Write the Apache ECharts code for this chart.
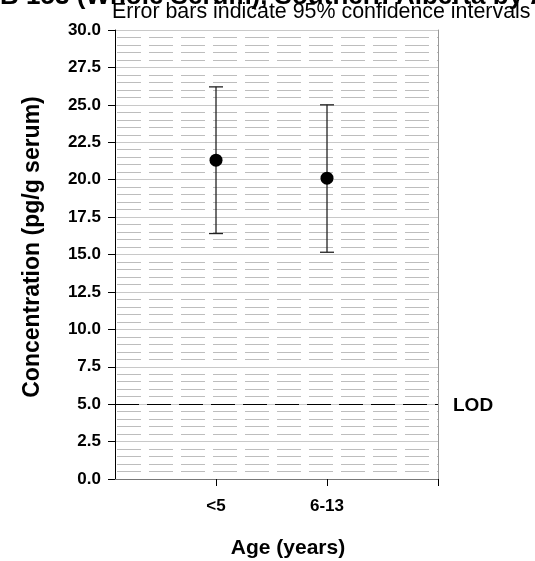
<!DOCTYPE html>
<html>
<head>
<meta charset="utf-8">
<script src="https://cdn.jsdelivr.net/npm/echarts@6/dist/echarts.min.js"></script>
<style>
  html, body { margin: 0; padding: 0; background: #fff; }
  #chart { width: 535px; height: 561px; }
</style>
</head>
<body>
<div id="chart"></div>
<script>
// chart data
const categories = ['<5', '6-13'];
const positions = [1, 2];
const means = [21.3, 20.1];
const lower = [16.4, 15.15];
const upper = [26.2, 25.0];
const lodValue = 5;

const font = 'Liberation Sans, Arial, sans-serif';
const chart = echarts.init(document.getElementById('chart'));

const pointData = positions.map((p, i) => [p, means[i]]);
const errData = positions.map((p, i) => [p, lower[i], upper[i]]);

chart.setOption({
  animation: false,
  backgroundColor: '#fff',
  graphic: [
    {
      type: 'text',
      left: -36,
      top: -16,
      style: {
        text: 'PCB 153 (Whole Serum), Southern Alberta by Age',
        font: 'bold 26px ' + font,
        fill: '#000'
      }
    },
    {
      type: 'text',
      left: 112,
      top: 2,
      style: {
        text: 'Error bars indicate 95% confidence intervals',
        font: '21.4px ' + font,
        fill: '#000'
      }
    },
    {
      type: 'text',
      x: 33,
      y: 247,
      rotation: Math.PI / 2,
      style: {
        text: 'Concentration (pg/g serum)',
        font: 'bold 23px ' + font,
        fill: '#000',
        align: 'center',
        verticalAlign: 'middle'
      }
    },
    {
      type: 'text',
      x: 288,
      y: 548,
      style: {
        text: 'Age (years)',
        font: 'bold 21px ' + font,
        fill: '#000',
        align: 'center',
        verticalAlign: 'middle'
      }
    }
  ],
  grid: { left: 115, right: 97, top: 30, bottom: 82, outerBoundsMode: 'none', containLabel: false },
  xAxis: [
    {
      type: 'value',
      min: 0.09,
      max: 3,
      axisLine: { show: true, lineStyle: { color: '#000', width: 1 } },
      axisTick: { show: true, length: 7, customValues: [1, 2, 3], lineStyle: { color: '#000' } },
      axisLabel: {
        customValues: positions,
        formatter: (v) => categories[positions.indexOf(Math.round(v))] || '',
        fontFamily: font, fontWeight: 'bold', fontSize: 17, color: '#000', margin: 19
      },
      splitLine: { show: false }
    },
    {
      type: 'value',
      position: 'top',
      min: 0.09,
      max: 3,
      axisLine: { show: true, lineStyle: { color: '#777', width: 1 } },
      axisTick: { show: false },
      axisLabel: { show: false },
      splitLine: { show: false }
    }
  ],
  yAxis: [
    {
      type: 'value',
      min: 0,
      max: 30,
      interval: 2.5,
      axisLine: { show: true, lineStyle: { color: '#000', width: 1 } },
      axisTick: { show: true, length: 7, lineStyle: { color: '#000' } },
      axisLabel: {
        formatter: (v) => v.toFixed(1),
        fontFamily: font, fontWeight: 'bold', fontSize: 17, color: '#000', margin: 14
      },
      splitLine: { show: true, lineStyle: { color: '#c8c8c8', width: 1 } },
      minorTick: { show: false, splitNumber: 5 },
      minorSplitLine: { show: true, lineStyle: { color: '#bdbdbd', width: 1, type: [24, 8], dashOffset: -2 } }
    },
    {
      type: 'value',
      position: 'right',
      min: 0,
      max: 30,
      axisLine: { show: true, lineStyle: { color: '#999', width: 1 } },
      axisTick: { show: false },
      axisLabel: { show: false },
      splitLine: { show: false }
    }
  ],
  series: [
    {
      type: 'custom',
      data: errData,
      z: 3,
      renderItem: (params, api) => {
        const x = api.coord([api.value(0), 0])[0];
        const yLo = api.coord([api.value(0), api.value(1)])[1];
        const yHi = api.coord([api.value(0), api.value(2)])[1];
        const half = 7;
        const style = { stroke: '#222', lineWidth: 1.3 };
        return {
          type: 'group',
          children: [
            { type: 'line', shape: { x1: x, y1: yLo, x2: x, y2: yHi }, style },
            { type: 'line', shape: { x1: x - half, y1: yLo, x2: x + half, y2: yLo }, style },
            { type: 'line', shape: { x1: x - half, y1: yHi, x2: x + half, y2: yHi }, style }
          ]
        };
      }
    },
    {
      type: 'scatter',
      data: pointData,
      symbol: 'circle',
      symbolSize: 13,
      z: 4,
      itemStyle: { color: '#000', opacity: 1 },
      markLine: {
        silent: true,
        symbol: 'none',
        lineStyle: { color: '#000', type: [24, 8], width: 1 },
        label: {
          show: true,
          position: 'end',
          formatter: 'LOD',
          distance: 15,
          offset: [0, 2],
          fontFamily: font, fontWeight: 'bold', fontSize: 19, color: '#000'
        },
        data: [{ yAxis: lodValue }]
      }
    }
  ]
});
</script>
</body>
</html>
